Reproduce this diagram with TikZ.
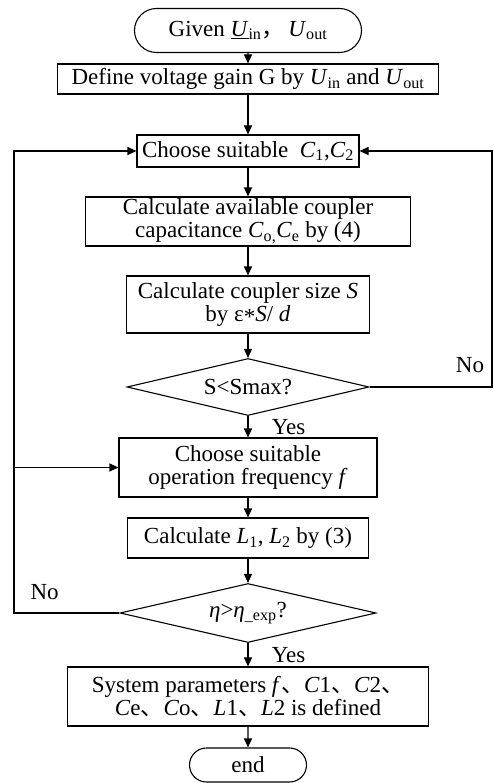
\documentclass[tikz,border=0pt]{standalone}
\usepackage{fontspec}
\setmainfont{Liberation Serif}
\newfontfamily\cjk{Noto Sans CJK SC}
\usetikzlibrary{shapes.geometric,shapes.misc,positioning,arrows.meta}
\newcommand{\vsub}[2]{\textit{#1}\textsubscript{#2}}
\newcommand{\dun}{{\cjk 、}}

\begin{document}
\begin{tikzpicture}[x=1pt,y=-1pt,line width=1.1pt,>={Triangle[length=9pt,width=8pt]},
  on grid,font=\fontsize{23}{23}\selectfont,
  flowbox/.style={draw,rectangle,align=center,inner sep=1pt},
  termbox/.style={draw,rounded rectangle,inner sep=1pt},
  testbox/.style={draw,diamond,inner sep=0pt}]
  \useasboundingbox (0,0) rectangle (493,783);
  \path
  node[termbox,minimum width=229pt,minimum height=44pt] (given) at (248,30.5)
    {Given \underline{\textit{U}}\textsubscript{in}{\cjk ，}\,\vsub{U}{out}}
  node[flowbox,minimum width=381pt,minimum height=30pt] (gain) [below=48.5pt of given]
    {Define voltage gain G by \vsub{U}{in} and \vsub{U}{out}}
  node[flowbox,minimum width=222pt,minimum height=32pt] (choose) [below=72pt of gain]
    {Choose suitable\ \ \vsub{C}{1},\vsub{C}{2}}
  node[flowbox,minimum width=325pt,minimum height=49pt] (avail) [below=70.5pt of choose]
    {Calculate available coupler\\capacitance \vsub{C}{o,}\vsub{C}{e} by (4)}
  node[flowbox,minimum width=243pt,minimum height=57pt] (size) [below=83pt of avail]
    {Calculate coupler size \textit{S}\\by ε\raisebox{-0.3ex}{*}\textit{S}/ \textit{d}}
  node[testbox,aspect=4.25,minimum width=242pt,minimum height=57pt] (smax) [below=82.5pt of size]
    {S<Smax?}
  node[flowbox,minimum width=258pt,minimum height=59pt] (freq) [below=80.5pt of smax]
    {Choose suitable\\operation frequency \textit{f}}
  node[flowbox,minimum width=241pt,minimum height=40pt] (coils) [below=70.5pt of freq]
    {Calculate \vsub{L}{1}, \vsub{L}{2} by (3)}
  node[testbox,aspect=4.34,minimum width=256pt,minimum height=59pt] (eff) [below=75pt of coils]
    {\textit{η}>\textit{η}\textsubscript{\_exp}?}
  node[flowbox,minimum width=361pt,minimum height=59pt] (params) [below=83.5pt of eff]
    {System parameters \textit{f}\dun\textit{C}1\dun\textit{C}2\dun\\
     \textit{C}e\dun\textit{C}o\dun\textit{L}1\dun\textit{L}2 is defined}
  node[termbox,minimum width=119pt,minimum height=34pt] (end) [below=68.5pt of params]
    {end}
  ;
  \coordinate (rgt) at (492,0);
  \coordinate (lft) at (14,0);
  \path[->]
  (given) edge (gain)
  (gain) edge (choose)
  (choose) edge (avail)
  (avail) edge (size)
  (size) edge (smax)
  (smax) edge node[anchor=west,xshift=20pt] {Yes} (freq)
  (freq) edge (coils)
  (coils) edge (eff)
  (eff) edge node[anchor=west,xshift=20pt] {Yes} (params)
  (params) edge (end)
  ;
  % back loops
  \draw[->] (smax.east) -- node[pos=0.82,anchor=south,yshift=10pt] {No} (smax.east -| rgt) |- (choose.east);
  \draw[->] (eff.west) -- node[pos=0.71,anchor=south,yshift=9pt] {No} (eff.west -| lft) |- (choose.west);
  \draw[->] (freq.west -| lft) -- (freq.west);
\end{tikzpicture}
\end{document}
